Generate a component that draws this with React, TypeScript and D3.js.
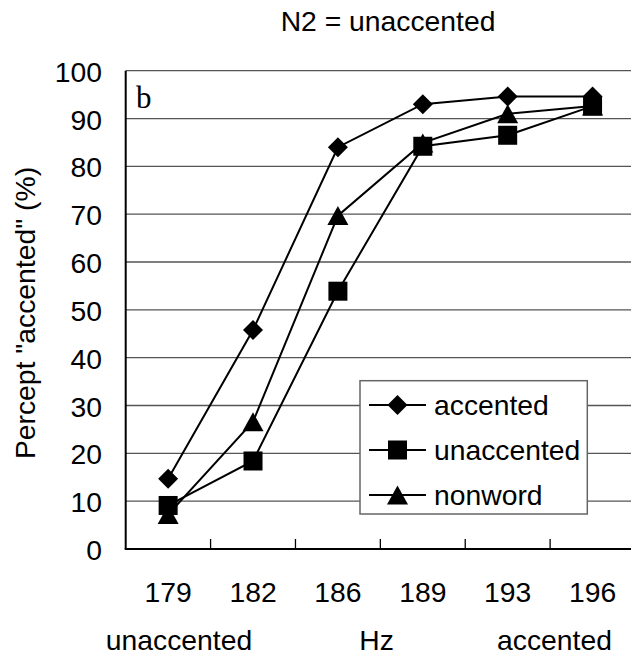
import React from "react";
import * as d3 from "d3";

const categories = ["179", "182", "186", "189", "193", "196"];
const yTicks = [0, 10, 20, 30, 40, 50, 60, 70, 80, 90, 100];
const accented = [14.7, 45.8, 84.0, 93.0, 94.6, 94.6];
const unaccented = [9.1, 18.4, 53.9, 84.2, 86.5, 92.6];
const nonword = [7.2, 26.6, 69.7, 84.9, 91.0, 92.6];
const seriesNames = ["accented", "unaccented", "nonword"];
const title = "N2 = unaccented";
const yLabel = 'Percept "accented" (%)';
const bottomLabels = ["unaccented", "Hz", "accented"];
const panelLabel = "b";

const W = 631;
const H = 656;
const left = 125.7;
const right = 635;
const top = 70.7;
const bottom = 549;
const SANS = "'Liberation Sans', Arial, sans-serif";
const FS = 28.3;

function Marker({ kind, x, y }: { kind: string; x: number; y: number }) {
  if (kind === "diamond") {
    const r = 10;
    return <path d={`M${x},${y - r}L${x + r},${y}L${x},${y + r}L${x - r},${y}Z`} fill="#000" />;
  }
  if (kind === "square") {
    const s = 9.5;
    return <rect x={x - s} y={y - s} width={2 * s} height={2 * s} fill="#000" />;
  }
  const hw = 10.5;
  const hh = 9.5;
  return <path d={`M${x},${y - hh}L${x + hw},${y + hh}L${x - hw},${y + hh}Z`} fill="#000" />;
}

export default function App() {
  const x = d3.scaleBand<string>().domain(categories).range([left, right]);
  const y = d3.scaleLinear().domain([0, 100]).range([bottom, top]);
  const cx = (c: string) => (x(c) as number) + x.bandwidth() / 2;
  const series = [
    { name: seriesNames[0], values: accented, kind: "diamond" },
    { name: seriesNames[1], values: unaccented, kind: "square" },
    { name: seriesNames[2], values: nonword, kind: "triangle" },
  ];
  const line = d3
    .line<number>()
    .x((_, i) => cx(categories[i]))
    .y((v) => y(v));

  const legX = 360;
  const legY = 380.7;
  const legW = 227.3;
  const legH = 133.3;
  const rowY = [405, 450, 495];

  return (
    <svg
      width={W}
      height={H}
      style={{ position: "absolute", left: 0, top: 0, display: "block", background: "#fff" }}
    >
      <rect x={0} y={0} width={W} height={H} fill="#fff" />
      <text x={388} y={31} fontFamily={SANS} fontSize={FS} textAnchor="middle" fill="#000">
        {title}
      </text>
      {yTicks.filter((t) => t > 0).map((t) => (
        <line key={"g" + t} x1={left} x2={right} y1={y(t)} y2={y(t)} stroke="#555" strokeWidth={1.3} />
      ))}
      {yTicks.map((t) => (
        <text key={"yt" + t} x={102} y={y(t) + 11} fontFamily={SANS} fontSize={FS} textAnchor="end" fill="#000">
          {t}
        </text>
      ))}
      <line x1={left} x2={left} y1={top} y2={bottom} stroke="#000" strokeWidth={2} />
      <line x1={left - 1} x2={right} y1={bottom} y2={bottom} stroke="#000" strokeWidth={2} />
      {categories.slice(1).map((c) => (
        <line key={"tk" + c} x1={x(c) as number} x2={x(c) as number} y1={bottom - 10} y2={bottom} stroke="#000" strokeWidth={1.3} />
      ))}
      {categories.map((c) => (
        <text key={"xt" + c} x={cx(c)} y={602.3} fontFamily={SANS} fontSize={FS} textAnchor="middle" fill="#000">
          {c}
        </text>
      ))}
      <text x={179} y={650} fontFamily={SANS} fontSize={FS} textAnchor="middle" fill="#000">
        {bottomLabels[0]}
      </text>
      <text x={376.5} y={650} fontFamily={SANS} fontSize={FS} textAnchor="middle" fill="#000">
        {bottomLabels[1]}
      </text>
      <text x={554.5} y={650} fontFamily={SANS} fontSize={FS} textAnchor="middle" fill="#000">
        {bottomLabels[2]}
      </text>
      <text
        transform={`translate(35,313) rotate(-90)`}
        fontFamily={SANS}
        fontSize={FS}
        textAnchor="middle"
        fill="#000"
      >
        {yLabel}
      </text>
      <text x={136} y={108} fontFamily="'Liberation Serif', 'Times New Roman', serif" fontSize={31} fill="#000">
        {panelLabel}
      </text>
      {series.map((s) => (
        <path key={"l" + s.name} d={line(s.values) || ""} fill="none" stroke="#000" strokeWidth={2} />
      ))}
      {[...series].reverse().map((s) =>
        s.values.map((v, i) => <Marker key={s.name + i} kind={s.kind} x={cx(categories[i])} y={y(v)} />)
      )}
      <rect x={legX} y={legY} width={legW} height={legH} fill="#fff" stroke="#666" strokeWidth={1.5} />
      {series.map((s, i) => (
        <g key={"lg" + s.name}>
          <line x1={369} x2={426} y1={rowY[i]} y2={rowY[i]} stroke="#000" strokeWidth={2} />
          <Marker kind={s.kind} x={397.5} y={rowY[i]} />
          <text x={434} y={rowY[i] + 10} fontFamily={SANS} fontSize={FS} fill="#000">
            {s.name}
          </text>
        </g>
      ))}
    </svg>
  );
}
